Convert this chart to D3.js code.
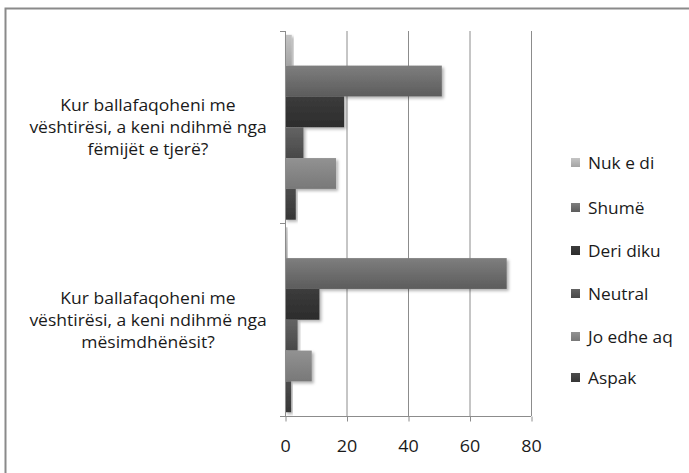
<!DOCTYPE html>
<html><head><meta charset="utf-8">
<script src="https://cdn.jsdelivr.net/npm/d3@7"></script>
<style>body{margin:0;background:#fff}svg{display:block}text{font-family:"Open Sans",sans-serif;fill:#1a1a1a}</style>
</head><body>
<svg id="c" width="689" height="473"></svg>
<script>
const categories = [
  ["Kur ballafaqoheni me","vështirësi, a keni ndihmë nga","fëmijët e tjerë?"],
  ["Kur ballafaqoheni me","vështirësi, a keni ndihmë nga","mësimdhënësit?"]
];
const seriesNames = ["Nuk e di","Shumë","Deri diku","Neutral","Jo edhe aq","Aspak"];
const values = [
  [2.2, 51, 19.2, 6, 16.6, 3.5],
  [0.8, 72.1, 11.2, 4.1, 8.7, 2]
];
const xTicks = [0,20,40,60,80];
const topColors = ["#c4c4c4","#7e7e7e","#3c3c3c","#636363","#929292","#4c4c4c"];
const botColors = ["#a4a4a4","#5c5c5c","#2c2c2c","#484848","#787878","#363636"];

const svg = d3.select("#c");
const defs = svg.append("defs");
seriesNames.forEach((s,i)=>{
  const g = defs.append("linearGradient").attr("id","g"+i).attr("x1",0).attr("y1",0).attr("x2",0).attr("y2",1);
  g.append("stop").attr("offset","0%").attr("stop-color",topColors[i]);
  g.append("stop").attr("offset","100%").attr("stop-color",botColors[i]);
});
const f = defs.append("filter").attr("id","sh").attr("x","-10%").attr("y","-20%").attr("width","130%").attr("height","160%");
f.append("feDropShadow").attr("dx",2).attr("dy",2).attr("stdDeviation",1.5).attr("flood-color","#000").attr("flood-opacity",0.3);

// outer border
svg.append("rect").attr("x",5.5).attr("y",8.5).attr("width",700).attr("height",480)
  .attr("fill","none").attr("stroke","#8a8a8a").attr("stroke-width",2);

const x = d3.scaleLinear().domain([0,80]).range([285,531]);
const y = d3.scaleBand().domain(d3.range(categories.length)).range([31,416]).paddingInner(0).paddingOuter(0);
const yInner = d3.scaleBand().domain(d3.range(seriesNames.length)).range([0,y.bandwidth()]).paddingInner(0).paddingOuter(0.123);

// gridlines
svg.append("g").selectAll("line").data(xTicks.slice(1)).join("line")
  .attr("x1",d=>x(d)+0.5).attr("x2",d=>x(d)+0.5).attr("y1",31).attr("y2",416)
  .attr("stroke","#8c8c8c").attr("stroke-width",1);

// bars
const cg = svg.append("g").selectAll("g").data(values).join("g")
  .attr("transform",(d,i)=>`translate(0,${y(i)})`);
cg.selectAll("rect").data(d=>d).join("rect")
  .attr("x",x(0)).attr("y",(d,i)=>yInner(i)).attr("height",yInner.bandwidth())
  .attr("width",d=>x(d)-x(0)).attr("fill",(d,i)=>`url(#g${i})`).attr("filter","url(#sh)");

// axes
const xAxis = d3.axisBottom(x).tickValues(xTicks).tickSize(5).tickPadding(0);
const gx = svg.append("g").attr("transform","translate(0,416.5)").call(xAxis);
gx.select(".domain").attr("stroke","#8c8c8c").attr("d","M280,0H531");
gx.selectAll(".tick line").attr("stroke","#8c8c8c").attr("transform","translate(0.5,0)");
gx.selectAll(".tick text").attr("font-size",16).attr("fill","#1a1a1a").attr("dy",null)
  .attr("y",36).attr("transform","scale(1.12,1)").style("font-family","'Open Sans',sans-serif");

const yTickPos = [31,223,416];
svg.append("line").attr("x1",285.5).attr("x2",285.5).attr("y1",31).attr("y2",416).attr("stroke","#8c8c8c");
svg.append("g").selectAll("line").data(yTickPos).join("line")
  .attr("x1",280).attr("x2",285).attr("y1",d=>d+0.5).attr("y2",d=>d+0.5).attr("stroke","#8c8c8c");

// category labels
categories.forEach((lines,i)=>{
  const cy = y(i)+y.bandwidth()/2;
  const t = svg.append("text").attr("text-anchor","middle").attr("font-size",17)
    .attr("transform",`translate(148,${cy}) scale(1.03,1)`);
  lines.forEach((ln,j)=>{
    t.append("tspan").attr("x",0).attr("y",(j-1)*22 + 6).text(ln);
  });
});

// legend
const legY = [163,208,251,294,337,378];
const lg = svg.append("g").selectAll("g").data(seriesNames).join("g")
  .attr("transform",(d,i)=>`translate(571,${legY[i]})`);
lg.append("rect").attr("x",0).attr("y",-5).attr("width",9).attr("height",9).attr("fill",(d,i)=>`url(#g${i})`);
lg.append("text").attr("font-size",16).attr("transform","translate(17,5.5) scale(1.08,1)").text(d=>d);
</script>
</body></html>
